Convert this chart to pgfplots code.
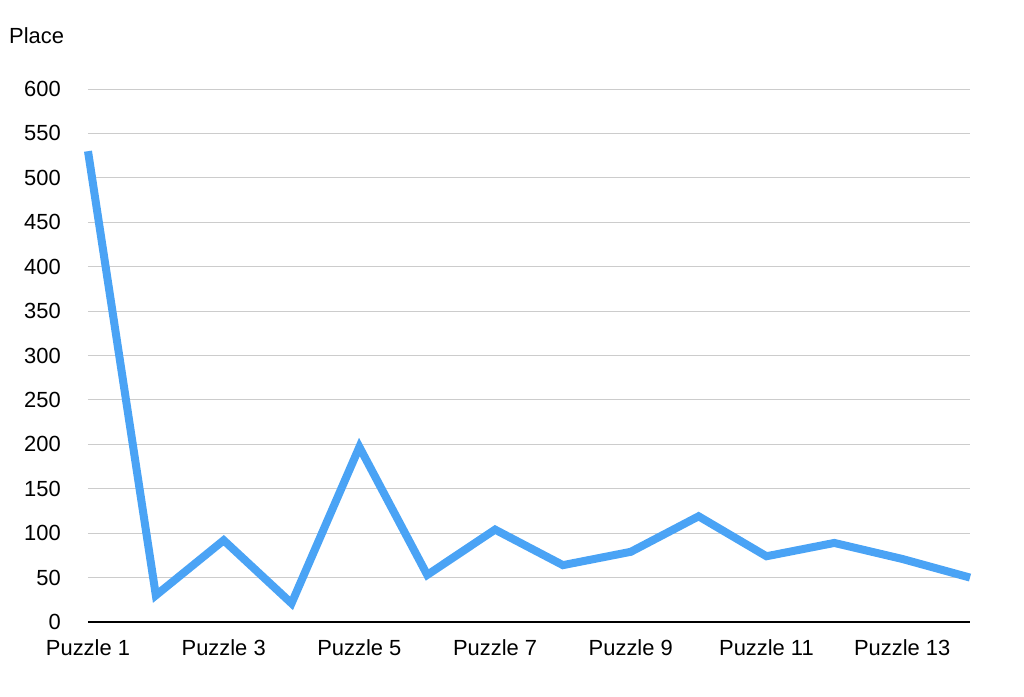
\documentclass[border=0pt]{standalone}
\usepackage{pgfplots}
\pgfplotsset{compat=1.18}
\usepackage{fontspec}
\setmainfont{Liberation Sans}
\definecolor{lineblue}{RGB}{74,163,245}
\definecolor{gridgray}{RGB}{204,204,204}

\begin{document}
\begin{tikzpicture}
\useasboundingbox (-88bp,-75bp) rectangle (936bp,622bp);
\begin{axis}[
    scale only axis,
    width=882bp, height=533bp,
    xmin=1, xmax=14,
    ymin=0, ymax=600,
    clip=false,
    axis x line*=bottom,
    axis y line*=left,
    x axis line style={black, line width=1.6bp, -},
    y axis line style={draw=none},
    ytick={0,50,...,600},
    xtick={1,3,5,7,9,11,13},
    xticklabels={Puzzle 1,Puzzle 3,Puzzle 5,Puzzle 7,Puzzle 9,Puzzle 11,Puzzle 13},
    major tick length=0pt,
    ymajorgrids,
    grid style={gridgray, line width=0.9bp},
    tick label style={font=\fontsize{22}{26}\selectfont},
    /pgf/number format/assume math mode=true,
    yticklabel style={anchor=east, inner sep=0pt, xshift=-27bp},
    xticklabel style={anchor=north, inner sep=0pt, yshift=-17bp},
]
\addplot[lineblue, line width=8bp, line join=miter] coordinates {
    (1,530) (2,30) (3,92) (4,21) (5,197) (6,53) (7,104)
    (8,64) (9,79) (10,119) (11,74) (12,89) (13,71) (14,50)
};
\node[anchor=west, inner sep=0pt, font=\fontsize{22}{26}\selectfont]
    at ([xshift=-79bp, yshift=53bp]rel axis cs:0,1) {Place};
\end{axis}
\end{tikzpicture}
\end{document}
